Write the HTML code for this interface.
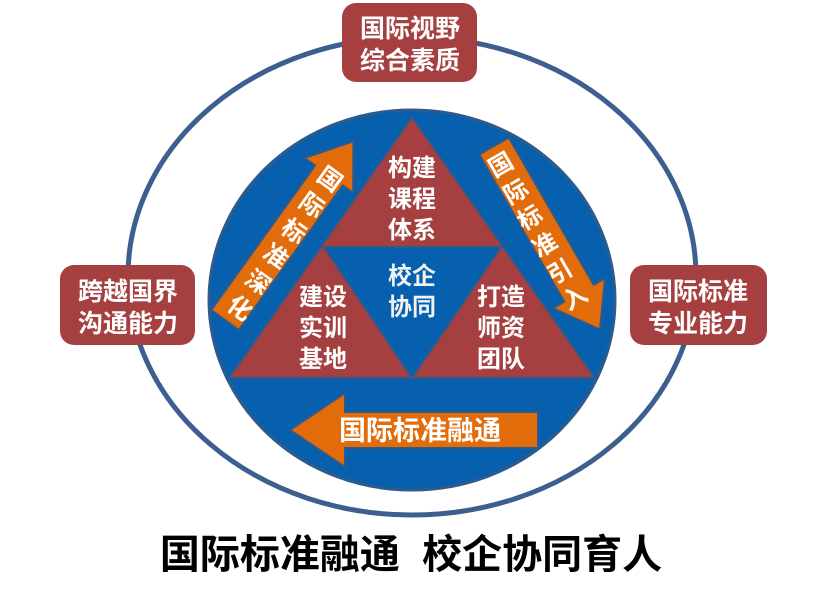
<!DOCTYPE html>
<html><head><meta charset="utf-8"><style>
html,body{margin:0;padding:0;background:#fff;}
svg{display:block;}
text{font-family:"Liberation Sans","Noto Sans CJK SC",sans-serif;font-weight:bold;}
</style></head><body>
<svg width="820" height="601" viewBox="0 0 820 601" xmlns="http://www.w3.org/2000/svg">
<ellipse cx="412" cy="276" rx="284" ry="239" fill="none" stroke="#3d5f8f" stroke-width="5"/>
<ellipse cx="412" cy="300" rx="203" ry="190" fill="#0660ad" stroke="#2e5a8c" stroke-width="3"/>
<polygon points="412,117 229,378 595,378" fill="#a63f3f" stroke="#2e5a8c" stroke-width="2"/>
<polygon points="324,247 501,247 412,378" fill="#0660ad" stroke="#2e5a8c" stroke-width="2"/>
<g fill="#fff" font-size="24" text-anchor="middle">
<text x="412" y="176">构建</text><text x="412" y="207">课程</text><text x="412" y="238">体系</text>
<text x="412" y="284" fill="#f2f2f2">校企</text><text x="412" y="315" fill="#f2f2f2">协同</text>
<text x="323" y="305">建设</text><text x="323" y="336">实训</text><text x="323" y="367">基地</text>
<text x="501" y="305">打造</text><text x="501" y="336">师资</text><text x="501" y="367">团队</text>
</g>
<g transform="translate(225,320) rotate(-54.3)">
<polygon points="0,-17 178,-17 178,-30 220,0 178,30 178,17 0,17" fill="#e36c0a" stroke="#2e5a8c" stroke-width="2"/>
</g>
<g transform="translate(494,146) rotate(60)">
<polygon points="0,-17 170,-17 170,-30 212,0 170,30 170,17 0,17" fill="#e36c0a" stroke="#2e5a8c" stroke-width="2"/>
</g>
<g fill="#fff" font-size="24" text-anchor="middle">
<text transform="translate(325,186) rotate(35.7)">国</text>
<text transform="translate(307,212) rotate(35.7)">际</text>
<text transform="translate(289,238) rotate(35.7)">标</text>
<text transform="translate(271,263) rotate(35.7)">准</text>
<text transform="translate(253,289) rotate(35.7)">深</text>
<text transform="translate(235,315) rotate(35.7)">化</text>
<text transform="translate(505,172) rotate(-30)">国</text>
<text transform="translate(520,199) rotate(-30)">际</text>
<text transform="translate(534,225) rotate(-30)">标</text>
<text transform="translate(549,252) rotate(-30)">准</text>
<text transform="translate(564,279) rotate(-30)">引</text>
<text transform="translate(579,305) rotate(-30)">入</text>
</g>
<polygon points="290,430 345,393 345,412 538,412 538,448 345,448 345,467" fill="#e36c0a" stroke="#2e5a8c" stroke-width="2"/>
<text x="420" y="440" fill="#fff" font-size="27" text-anchor="middle">国际标准融通</text>
<rect x="342" y="3" width="135" height="79" rx="14" fill="#a63f3f"/>
<text x="410" y="37" fill="#fff" font-size="25" text-anchor="middle">国际视野</text>
<text x="410" y="69" fill="#fff" font-size="25" text-anchor="middle">综合素质</text>
<rect x="60" y="265" width="135" height="80" rx="14" fill="#a63f3f"/>
<text x="128" y="300" fill="#fff" font-size="25" text-anchor="middle">跨越国界</text>
<text x="128" y="332" fill="#fff" font-size="25" text-anchor="middle">沟通能力</text>
<rect x="630" y="265" width="137" height="80" rx="14" fill="#a63f3f"/>
<text x="698" y="300" fill="#fff" font-size="25" text-anchor="middle">国际标准</text>
<text x="698" y="332" fill="#fff" font-size="25" text-anchor="middle">专业能力</text>
<text x="411" y="568" fill="#000" font-size="40" text-anchor="middle" xml:space="preserve">国际标准融通  校企协同育人</text>
</svg>
</body></html>
